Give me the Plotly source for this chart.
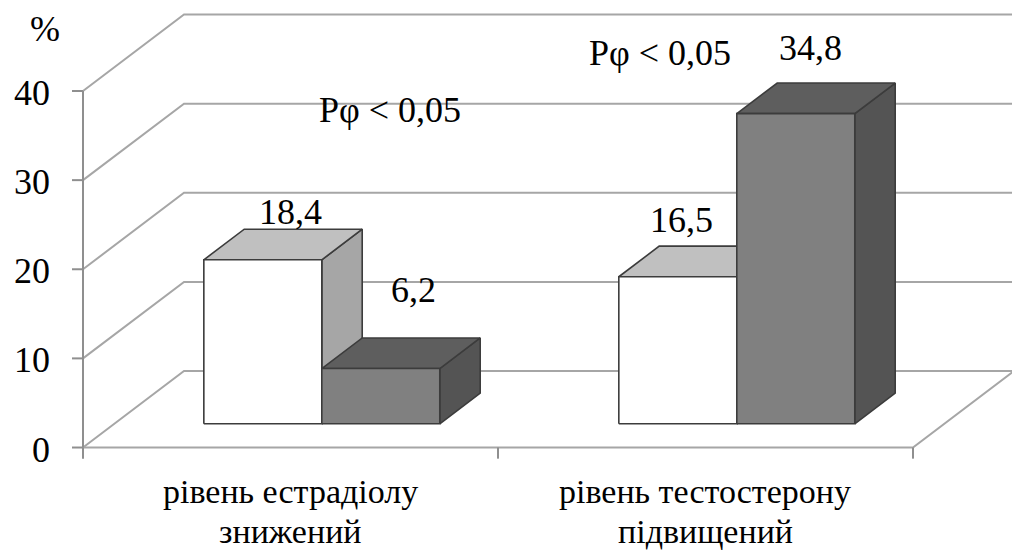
import plotly.graph_objects as go

# ---- data -------------------------------------------------------------
categories = [["рівень естрадіолу", "знижений"],
              ["рівень тестостерону", "підвищений"]]
series_light = [18.4, 16.5]
series_dark = [6.2, 34.8]
labels_light = ["18,4", "16,5"]
labels_dark = ["6,2", "34,8"]
y_ticks = [0, 10, 20, 30, 40]
y_tick_labels = ["0", "10", "20", "30", "40"]
p_notes = ["Pφ < 0,05", "Pφ < 0,05"]
unit_label = "%"

# ---- pseudo-3D geometry (x in category units, y in value units) -------
DEPTH_X = 0.2434      # floor depth, horizontal component
DEPTH_Y = 8.58        # floor depth, vertical component
BAR_W = 0.2843
BAR_D0, BAR_D1 = 0.31, 0.71
N_CAT = len(categories)
X_RANGE = [-0.2, 2.2386]
Y_RANGE = [-11.61, 50.21]

FONT = "Liberation Serif, Times New Roman, serif"
GRID = "#a6a6a6"
EDGE = "#3c3c3c"
LIGHT = dict(front="#ffffff", top="#c0c0c0", side="#a6a6a6")
DARK = dict(front="#808080", top="#5e5e5e", side="#545454")


def proj(x, v, d):
    return x + d * DEPTH_X, v + d * DEPTH_Y


fig = go.Figure()


def add_line(pts, color=GRID, width=2):
    xs, ys = [], []
    for seg in pts:
        for p in seg:
            xs.append(p[0])
            ys.append(p[1])
        xs.append(None)
        ys.append(None)
    fig.add_trace(go.Scatter(x=xs, y=ys, mode="lines",
                             line=dict(color=color, width=width),
                             hoverinfo="skip", showlegend=False))


# walls and floor
segs = []
for v in y_ticks:
    segs.append([proj(0, v, 0), proj(0, v, 1), proj(N_CAT, v, 1)])
segs.append([proj(0, 0, 0), proj(N_CAT, 0, 0), proj(N_CAT, 0, 1)])
add_line(segs)

# value axis with tick marks, category tick marks
add_line([[(0, 0), (0, max(y_ticks))]], color="#8f8f8f", width=2)
add_line([[(-0.0265, v), (0, v)] for v in y_ticks], color="#8f8f8f", width=2)
add_line([[(i, 0), (i, -1.25)] for i in range(N_CAT + 1)], color="#8f8f8f", width=2)


def add_face(corners, fill):
    xs = [c[0] for c in corners] + [corners[0][0]]
    ys = [c[1] for c in corners] + [corners[0][1]]
    fig.add_trace(go.Scatter(x=xs, y=ys, mode="lines", fill="toself",
                             fillcolor=fill, line=dict(color=EDGE, width=1.6),
                             hoverinfo="skip", showlegend=False))


def add_bar(x0, h, colors):
    x1 = x0 + BAR_W
    side = [proj(x1, 0, BAR_D0), proj(x1, 0, BAR_D1),
            proj(x1, h, BAR_D1), proj(x1, h, BAR_D0)]
    top = [proj(x0, h, BAR_D0), proj(x1, h, BAR_D0),
           proj(x1, h, BAR_D1), proj(x0, h, BAR_D1)]
    front = [proj(x0, 0, BAR_D0), proj(x1, 0, BAR_D0),
             proj(x1, h, BAR_D0), proj(x0, h, BAR_D0)]
    add_face(side, colors["side"])
    add_face(top, colors["top"])
    add_face(front, colors["front"])


annotations = []
label_nudges = [(7, -9), (12, 22), (-17, 0), (-5, 9)]
k = 0
for i in range(N_CAT):
    center = i + 0.5
    for j, (vals, labs, cols) in enumerate(
            [(series_light, labels_light, LIGHT), (series_dark, labels_dark, DARK)]):
        x0 = center - BAR_W + j * BAR_W
        add_bar(x0, vals[i], cols)
        dx, dy = label_nudges[k]
        k += 1
        annotations.append(dict(x=x0 + BAR_W / 2 + (BAR_D0 + BAR_D1) / 2 * DEPTH_X,
                                y=vals[i] + 9, text=labs[i], showarrow=False,
                                xanchor="center", yanchor="middle",
                                xshift=dx, yshift=dy))

# value axis labels
for v, t in zip(y_ticks, y_tick_labels):
    annotations.append(dict(x=0, y=v, text=t, showarrow=False, xanchor="right",
                            yanchor="middle", xshift=-31, yshift=-2))
annotations.append(dict(x=0, y=max(y_ticks), text=unit_label, showarrow=False,
                        xanchor="center", yanchor="middle", xshift=-38, yshift=62))

# significance notes
annotations.append(dict(x=0.74, y=37.87, text=p_notes[0], showarrow=False,
                        xanchor="center", yanchor="middle"))
annotations.append(dict(x=1.39, y=44.27, text=p_notes[1], showarrow=False,
                        xanchor="center", yanchor="middle"))

# category labels (two lines each)
for i, (l1, l2) in enumerate(categories):
    annotations.append(dict(x=i + 0.5, y=-4.88, text=l1, showarrow=False,
                            xanchor="center", yanchor="middle",
                            font=dict(size=34)))
    annotations.append(dict(x=i + 0.5, y=-9.37, text=l2, showarrow=False,
                            xanchor="center", yanchor="middle",
                            font=dict(size=34)))

fig.update_layout(
    width=1012, height=551,
    margin=dict(l=0, r=0, t=0, b=0),
    paper_bgcolor="white", plot_bgcolor="white",
    font=dict(family=FONT, size=36, color="black"),
    xaxis=dict(range=X_RANGE, visible=False, fixedrange=True),
    yaxis=dict(range=Y_RANGE, visible=False, fixedrange=True),
    annotations=annotations,
    showlegend=False,
)

fig.write_html("out.html")
